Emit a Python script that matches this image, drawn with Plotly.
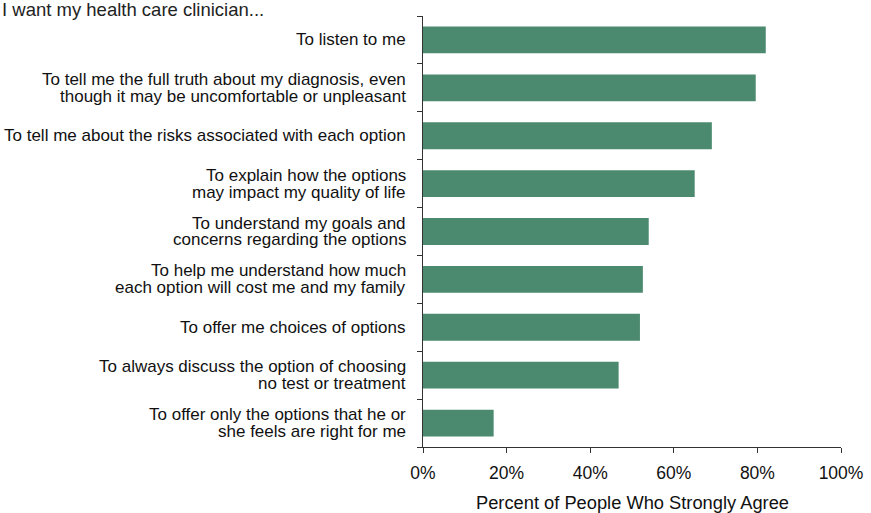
import plotly.graph_objects as go

categories = [
    "To listen to me",
    "To tell me the full truth about my diagnosis, even<br>though it may be uncomfortable or unpleasant",
    "To tell me about the risks associated with each option",
    "To explain how the options<br>may impact my quality of life",
    "To understand my goals and<br>concerns regarding the options",
    "To help me understand how much<br>each option will cost me and my family",
    "To offer me choices of options",
    "To always discuss the option of choosing<br>no test or treatment",
    "To offer only the options that he or<br>she feels are right for me",
]
values = [82.0, 79.6, 69.1, 65.0, 54.0, 52.6, 51.9, 46.8, 16.9]
x_ticks = [0, 20, 40, 60, 80, 100]
x_tick_labels = ["0%", "20%", "40%", "60%", "80%", "100%"]
title_text = "I want my health care clinician..."
x_title = "Percent of People Who Strongly Agree"

font_family = "Liberation Sans, Arial, sans-serif"
positions = list(range(len(categories)))

fig = go.Figure(go.Bar(
    x=values, y=positions, orientation="h",
    marker=dict(color="#4B8A6E", line=dict(width=0)),
    width=0.56,
))

annotations = []
line_gap = 8.4
for pos, label in zip(positions, categories):
    lines = label.split("<br>")
    n = len(lines)
    for k, line in enumerate(lines):
        offset = (k - (n - 1) / 2) * 2 * line_gap
        annotations.append(dict(
            text=line, xref="paper", x=0, xanchor="right", xshift=-15,
            yref="y", y=pos, yanchor="middle", yshift=-offset,
            showarrow=False, font=dict(size=17.0, color="#111"),
        ))
annotations.append(dict(
    text=x_title, xref="paper", x=0.5, xanchor="center",
    yref="paper", y=0, yanchor="middle", yshift=-55,
    showarrow=False, font=dict(size=18.3, color="#111"),
))
annotations.append(dict(
    text=title_text, xref="paper", x=0, xanchor="left", xshift=-423,
    yref="paper", y=1, yanchor="middle", yshift=7,
    showarrow=False, font=dict(size=18.5, color="#222"),
))

fig.update_layout(
    width=871, height=513,
    margin=dict(l=423, r=30, t=16, b=66),
    plot_bgcolor="white", paper_bgcolor="white",
    font=dict(family=font_family, size=17, color="#111"),
    showlegend=False,
    annotations=annotations,
)
fig.update_xaxes(
    range=[0, 100], tickvals=x_ticks, ticktext=x_tick_labels,
    showgrid=False, zeroline=False, showline=True, linecolor="#333", linewidth=1,
    ticks="outside", ticklen=5, tickcolor="#333",
    tickfont=dict(size=17.5), ticklabelstandoff=5, automargin=False,
)
fig.update_yaxes(
    range=[len(categories) - 0.5, -0.5],
    tickvals=[p - 0.5 for p in positions] + [len(categories) - 0.5],
    showticklabels=False, showgrid=False, zeroline=False,
    showline=True, linecolor="#333", linewidth=1,
    ticks="outside", ticklen=5, tickcolor="#333", automargin=False,
)

fig.write_html(
    "out.html",
    config={"displayModeBar": False},
    post_script="document.body.style.margin='0';document.body.style.overflow='hidden';",
)
